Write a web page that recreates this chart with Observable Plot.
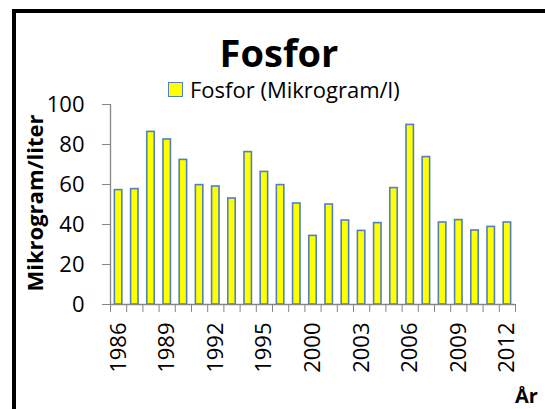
<!DOCTYPE html>
<html><head><meta charset="utf-8">
<script src="https://cdn.jsdelivr.net/npm/d3@7"></script>
<script src="https://cdn.jsdelivr.net/npm/@observablehq/plot@0.6"></script>
<style>
html,body{margin:0;padding:0;width:545px;height:409px;overflow:hidden;background:#fff;font-family:"Open Sans",sans-serif;color:#000;}
#wrap{position:relative;width:545px;height:409px;overflow:hidden;}
#chart{position:absolute;left:0;top:0;}
#frame{position:absolute;left:12px;top:9px;width:700px;height:600px;border:4px solid #000;border-right:none;border-bottom:none;box-sizing:border-box;pointer-events:none;}
.t{position:absolute;white-space:nowrap;}
#title{left:279px;top:33px;transform:translateX(-50%);font-weight:700;font-size:38px;line-height:38px;}
#legsw{left:168px;top:82px;width:13px;height:13px;background:#FFFF00;border:1.5px solid #4F81BD;}
#legtx{left:190px;top:78px;font-size:22px;line-height:22px;}
#ylab{left:34px;top:203px;transform:translate(-50%,-50%) rotate(-90deg);font-weight:700;font-size:22px;line-height:22px;}
#xlab{left:515px;top:386px;font-weight:700;font-size:20px;line-height:20px;}
</style>
</head><body>
<div id="wrap">
  <div id="chart"></div>
  <div class="t" id="title">Fosfor</div>
  <div class="t" id="legsw"></div>
  <div class="t" id="legtx">Fosfor (Mikrogram/l)</div>
  <div class="t" id="ylab">Mikrogram/liter</div>
  <div class="t" id="xlab">År</div>
  <div id="frame"></div>
</div>
<script>
const years = ["1986","1987","1988","1989","1990","1991","1992","1993","1994","1995","1996","1998","2000","2001","2002","2003","2004","2005","2006","2007","2008","2009","2010","2011","2012"];
const values = [57.2,57.7,86.3,82.5,72.3,59.7,59,53,76.2,66.3,59.7,50.5,34.3,50,42,36.8,40.7,58.2,89.8,73.7,41,42.2,37,38.8,41];
const yTicks = [0,20,40,60,80,100];
const labelYears = ["1986","1989","1992","1995","2000","2003","2006","2009","2012"];

const data = years.map((year,i)=>({year, i, value: values[i]}));
const labelIdx = labelYears.map(y => years.indexOf(y));
const axisGray = "#868686";

const chart = Plot.plot({
  width:545, height:409,
  marginLeft:110, marginRight:30, marginTop:104, marginBottom:105,
  style:{fontFamily:'"Open Sans", sans-serif', fontSize:"22px", color:"#000", background:"transparent", overflow:"visible"},
  x:{type:"linear", domain:[0, years.length]},
  y:{domain:[0,100]},
  marks:[
    Plot.rect(data,{x1:d=>d.i+0.27, x2:d=>d.i+0.73, y1:0, y2:"value", fill:"#FFFF00", stroke:"#4F81BD", strokeWidth:1.6}),
    Plot.ruleX([0],{stroke:axisGray, strokeWidth:1.3}),
    Plot.ruleY([0],{stroke:axisGray, strokeWidth:1.3}),
    Plot.axisY({ticks:yTicks, tickSize:8, tickPadding:18, stroke:axisGray, fill:"#000", fontSize:22, label:null}),
    Plot.axisX({ticks:d3.range(years.length+1), tickFormat:()=>"", tickSize:8, stroke:axisGray, label:null}),
    Plot.axisX({ticks:labelIdx.map(i=>i+0.5), tickFormat:v=>years[Math.floor(v)], tickRotate:-90, tickSize:0, tickPadding:18, fontSize:22, fill:"#000", label:null})
  ]
});
document.getElementById("chart").appendChild(chart);
</script>
</body></html>
